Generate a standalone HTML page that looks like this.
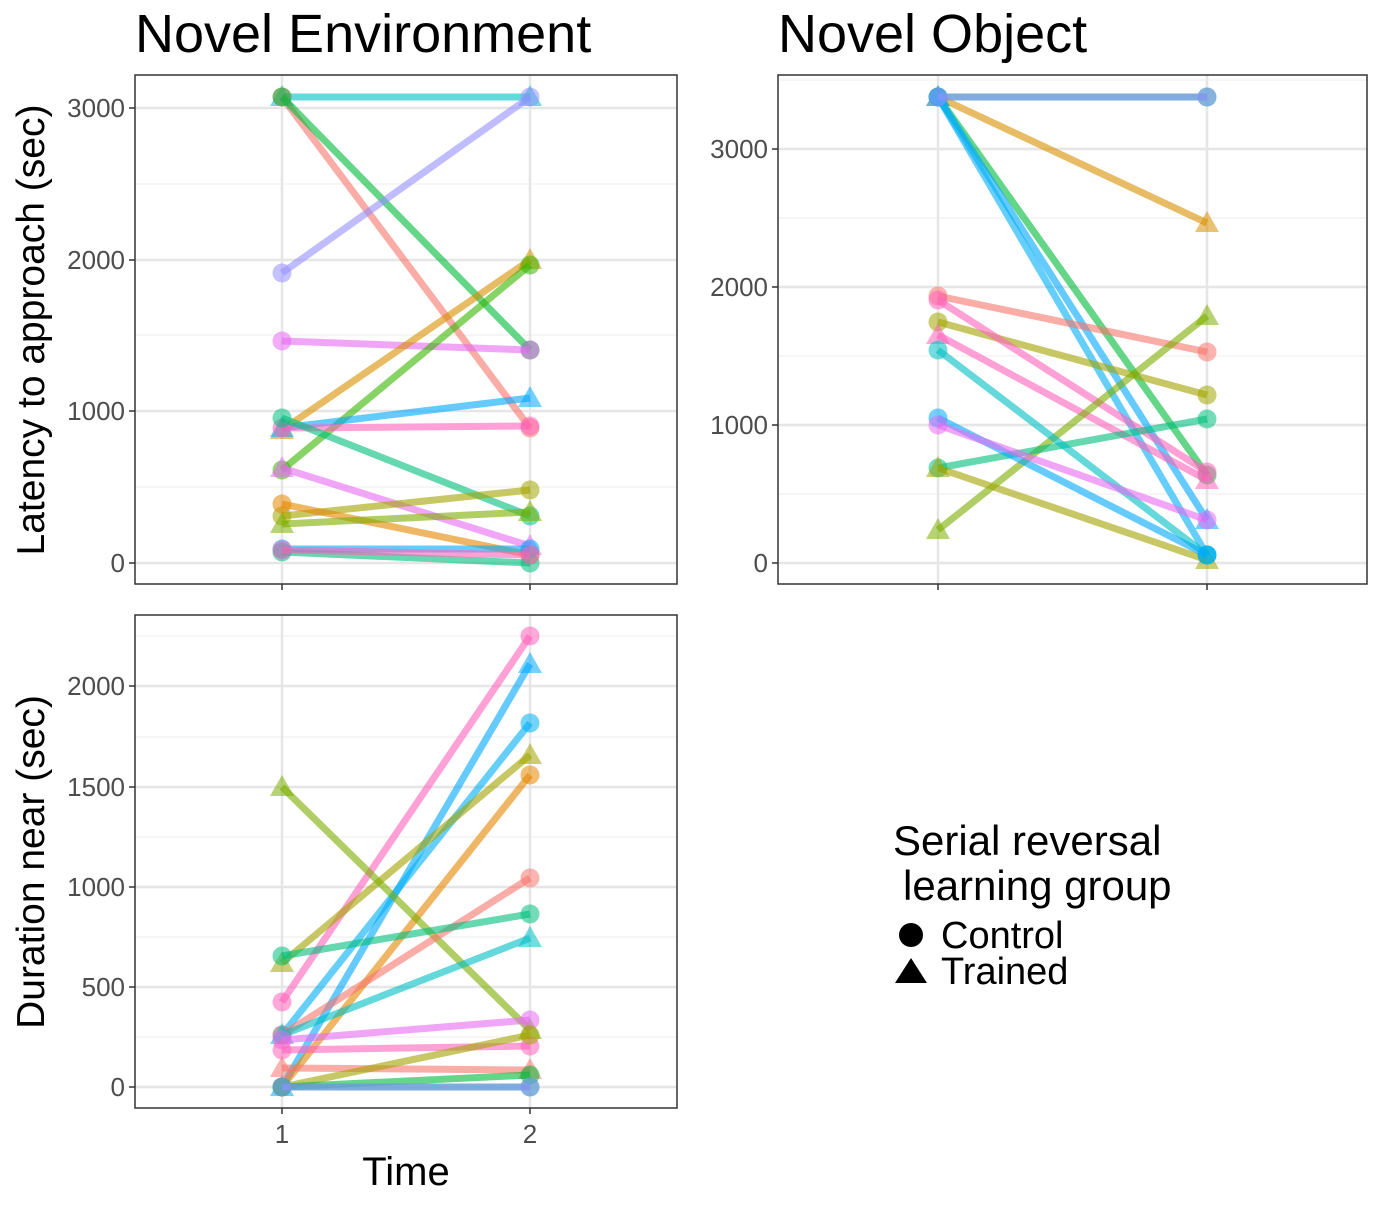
<!DOCTYPE html>
<html><head><meta charset="utf-8"><style>
html,body{margin:0;padding:0;background:#fff;}
svg{display:block;font-family:"Liberation Sans",sans-serif;}
</style></head><body>
<svg id="s" width="1380" height="1206" viewBox="0 0 1380 1206" xmlns="http://www.w3.org/2000/svg">
<rect width="1380" height="1206" fill="#fff"/>
<text x="135" y="52" font-size="54">Novel Environment</text>
<text x="778" y="52" font-size="54">Novel Object</text>
<text transform="translate(44,330) rotate(-90)" font-size="39" text-anchor="middle">Latency to approach (sec)</text>
<text transform="translate(44,862) rotate(-90)" font-size="39" text-anchor="middle">Duration near (sec)</text>
<text x="406" y="1185" font-size="40" text-anchor="middle">Time</text>
<g id="g"></g>
<text x="893" y="855" font-size="42">Serial reversal</text>
<text x="903" y="900" font-size="42">learning group</text>
<circle cx="911" cy="935" r="12" fill="#000"/>
<text x="941" y="948" font-size="38">Control</text>
<polygon points="911,958 927,983 895,983" fill="#000"/>
<text x="941" y="984" font-size="38">Trained</text>
</svg>
<script>
const g=document.getElementById('g');let h='';
function panel(x0,y0,x1,y1,xs,ticks,minor){
  h+=`<rect x="${x0}" y="${y0}" width="${x1-x0}" height="${y1-y0}" fill="#fff"/>`;
  minor.forEach(y=>h+=`<line x1="${x0}" x2="${x1}" y1="${y}" y2="${y}" stroke="#f3f3f3" stroke-width="1.5"/>`);
  ticks.forEach(([y,l])=>{h+=`<line x1="${x0}" x2="${x1}" y1="${y}" y2="${y}" stroke="#e6e6e6" stroke-width="2.5"/>`;
    h+=`<line x1="${x0-6}" x2="${x0}" y1="${y}" y2="${y}" stroke="#333" stroke-width="1.5"/>`;
    h+=`<text x="${x0-10}" y="${y+9}" font-size="26" fill="#4d4d4d" text-anchor="end">${l}</text>`;});
  xs.forEach(x=>{h+=`<line x1="${x}" x2="${x}" y1="${y0}" y2="${y1}" stroke="#e6e6e6" stroke-width="2.5"/>`;
    h+=`<line x1="${x}" x2="${x}" y1="${y1}" y2="${y1+6}" stroke="#333" stroke-width="1.5"/>`;});
}
function border(x0,y0,x1,y1){h+=`<rect x="${x0}" y="${y0}" width="${x1-x0}" height="${y1-y0}" fill="none" stroke="#333" stroke-width="1.5"/>`;}
function pt(x,y,c,s){ if(s=='t') h+=`<polygon points="${x},${y-12} ${x+12},${y+9} ${x-12},${y+9}" fill="${c}" opacity="0.55"/>`;
 else h+=`<circle cx="${x}" cy="${y}" r="9.5" fill="${c}" opacity="0.55"/>`;}
function series(xa,xb,arr){arr.forEach(([a,b,c,s])=>{
 h+=`<line x1="${xa}" y1="${a}" x2="${xb}" y2="${b}" stroke="${c}" stroke-width="7" opacity="0.6"/>`;
 pt(xa,a,c,s);pt(xb,b,c,s);});}
// Panel 1
panel(135,75,677,584,[282,530],[[563,'0'],[411,'1000'],[260,'2000'],[108,'3000']],[487,335,184]);
series(282,530,[
[97,97,'#00BFC4','t'],[97,428,'#F8766D','c'],[97,350,'#00BA38','c'],[273,97,'#9590FF','c'],
[341,350,'#E76BF3','c'],[430,260,'#D89000','t'],[470,265,'#39B600','c'],[428,398,'#00A9FF','t'],
[428,426,'#FF62BC','c'],[418,516,'#00BF7D','c'],[468,546,'#E76BF3','t'],[516,490,'#A3A500','c'],
[504,555,'#E58700','c'],[524,512,'#7CAE00','t'],[549,549,'#00A9FF','c'],[552,563,'#00BF7D','c'],
[550,555,'#FF62BC','c']]);
border(135,75,677,584);
// Panel 2
panel(778,75,1367,584,[938,1207],[[563,'0'],[425,'1000'],[287,'2000'],[149,'3000']],[494,356,218,80]);
series(938,1207,[
[97,97,'#00BF7D','c'],[97,223,'#D89000','t'],[97,475,'#00BA38','c'],[97,520,'#00A9FF','t'],
[97,555,'#00B0F6','c'],[296,352,'#F8766D','c'],[322,395,'#A3A500','c'],[300,472,'#FF62BC','c'],
[335,480,'#FF62BC','t'],[530,316,'#7CAE00','t'],[468,419,'#00BF7D','c'],[468,560,'#A3A500','t'],
[350,555,'#00BFC4','c'],[418,555,'#00A9FF','c'],[425,520,'#E76BF3','c'],[97,97,'#9590FF','c']]);
border(778,75,1367,584);
// Panel 3
panel(135,615,677,1108,[282,530],[[1087,'0'],[987,'500'],[887,'1000'],[787,'1500'],[686,'2000']],[1037,937,837,737,636]);
series(282,530,[
[1002,636,'#FF62BC','c'],[1087,664,'#00A9FF','t'],[1035,723,'#00B0F6','c'],[963,755,'#A3A500','t'],
[1087,775,'#E58700','c'],[787,1030,'#7CAE00','t'],[1035,878,'#F8766D','c'],[956,914,'#00BF7D','c'],
[1035,938,'#00BFC4','t'],[1040,1020,'#E76BF3','c'],[1050,1046,'#FF62BC','c'],[1068,1070,'#F8766D','t'],
[1087,1035,'#A3A500','c'],[1087,1075,'#00BA38','c'],[1087,1087,'#00BF7D','c'],[1087,1087,'#9590FF','c']]);
border(135,615,677,1108);
h+=`<text x="282" y="1143" font-size="26" fill="#4d4d4d" text-anchor="middle">1</text>`;
h+=`<text x="530" y="1143" font-size="26" fill="#4d4d4d" text-anchor="middle">2</text>`;
g.innerHTML=h;
</script>
</body></html>
